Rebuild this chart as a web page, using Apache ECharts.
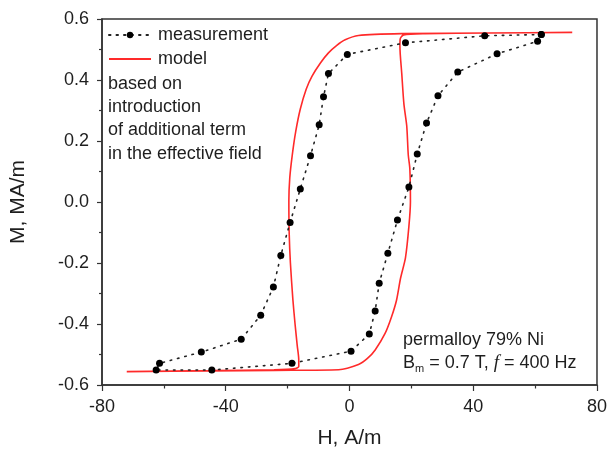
<!DOCTYPE html>
<html>
<head>
<meta charset="utf-8">
<script src="https://cdn.jsdelivr.net/npm/echarts@6/dist/echarts.min.js"></script>
<style>html,body{margin:0;padding:0;background:#fff}#c{width:610px;height:454px}</style>
</head>
<body>
<div id="c"></div>
<script>
// Measurement (black dots, dotted line) — one full loop
var measH = [62.0, 43.7, 18.1, -0.7, -6.8, -8.4, -9.8, -12.6, -15.9, -19.2, -22.2, -24.6, -28.7, -35.0, -47.9, -61.4, -62.5,
             -44.5, -18.6, 0.5, 6.4, 8.3, 9.6, 12.4, 15.5, 19.2, 21.9, 24.9, 28.6, 35.0, 47.7, 60.8, 62.0];
var measM = [0.549, 0.545, 0.522, 0.484, 0.421, 0.345, 0.253, 0.152, 0.043, -0.067, -0.175, -0.279, -0.371, -0.450, -0.492, -0.529, -0.551,
             -0.551, -0.529, -0.489, -0.433, -0.357, -0.266, -0.168, -0.059, 0.049, 0.157, 0.259, 0.348, 0.426, 0.486, 0.527, 0.549];

// Model (red line) — descending then ascending branch
var modelH = [72, 45, 16.8, 2.9, -1.4, -4.2, -6.8, -9.4, -12.1, -14.0, -15.9, -17.4, -18.5, -19.3, -19.6, -19.5, -19.1, -18.3, -17.6, -16.9, -16.4, -16.4, -17.5, -24.4, -45, -72,
              -45, -24.4, -3.5, 2.9, 5.8, 8.3, 11.5, 13.6, 15.2, 16.5, 18.1, 19.2, 19.7, 19.5, 19.0, 18.5, 17.6, 16.9, 16.3, 16.4, 17.5, 24.4, 45, 72];
var modelM = [0.556, 0.554, 0.552, 0.546, 0.532, 0.513, 0.489, 0.456, 0.413, 0.370, 0.305, 0.230, 0.154, 0.080, 0.003, -0.100, -0.200, -0.320, -0.400, -0.470, -0.517, -0.539, -0.546, -0.550, -0.553, -0.556,
              -0.554, -0.552, -0.550, -0.533, -0.513, -0.485, -0.431, -0.376, -0.322, -0.250, -0.182, -0.080, 0.002, 0.110, 0.154, 0.250, 0.320, 0.420, 0.511, 0.535, 0.548, 0.552, 0.554, 0.556];

var xTicks = {min: -80, max: 80, interval: 40};
var yTicks = {min: -0.6, max: 0.6, interval: 0.2};

function pairs(a, b) { return a.map(function (v, i) { return [v, b[i]]; }); }

var chart = echarts.init(document.getElementById('c'), null, {renderer: 'canvas'});
var FONT = 'Liberation Sans, Arial, sans-serif';
var INK = '#1e1e1e';
chart.setOption({
  animation: false,
  backgroundColor: '#fff',
  textStyle: {fontFamily: FONT},
  grid: {left: 102, right: 10, top: 19, bottom: 65, show: true, borderColor: '#333', borderWidth: 1.5, backgroundColor: 'transparent'},
  legend: {
    orient: 'vertical', left: 103, top: 21, itemWidth: 42, itemHeight: 8, itemGap: 6,
    textStyle: {fontSize: 18, color: INK, fontFamily: FONT, padding: [0, 0, 0, 2]},
    data: [
      {name: 'measurement'},
      {name: 'model', itemStyle: {opacity: 0}}
    ]
  },
  title: {
    text: 'based on\nintroduction\nof additional term\nin the effective field',
    left: 108, top: 72, padding: 0,
    textStyle: {fontSize: 18, fontWeight: 'normal', color: INK, lineHeight: 23.4, fontFamily: FONT}
  },
  xAxis: {
    type: 'value', min: xTicks.min, max: xTicks.max, interval: xTicks.interval,
    name: 'H, A/m', nameLocation: 'middle', nameGap: 43,
    nameTextStyle: {fontSize: 21, color: INK},
    axisLine: {show: true, onZero: false, lineStyle: {color: '#333', width: 1.5}},
    axisTick: {show: true, inside: false, length: 6, lineStyle: {color: '#333', width: 1.2}},
    minorTick: {show: true, splitNumber: 2, length: 3.5, lineStyle: {color: '#333', width: 1.2}},
    axisLabel: {fontSize: 18, color: INK, margin: 13},
    splitLine: {show: false}
  },
  yAxis: {
    type: 'value', min: yTicks.min, max: yTicks.max, interval: yTicks.interval,
    name: 'M, MA/m', nameLocation: 'middle', nameGap: 73,
    nameTextStyle: {fontSize: 21, color: INK},
    axisLine: {show: true, onZero: false, lineStyle: {color: '#333', width: 1.5}},
    axisTick: {show: true, inside: false, length: 5, lineStyle: {color: '#333', width: 1.2}},
    minorTick: {show: true, splitNumber: 2, length: 3, lineStyle: {color: '#333', width: 1.2}},
    axisLabel: {fontSize: 18, color: INK, margin: 13, formatter: function (v) { return v.toFixed(1); }},
    splitLine: {show: false}
  },
  graphic: [{
    type: 'text', left: 403, top: 331,
    style: {
      text: '{a|permalloy 79% Ni}\n{a|B}{s|m}{a| = 0.7 T, }{f|f}{a| = 400 Hz}',
      rich: {
        a: {fontSize: 18, fontFamily: FONT, fill: INK, lineHeight: 23},
        s: {fontSize: 11, fontFamily: FONT, fill: INK, lineHeight: 23, verticalAlign: 'bottom', padding: [10, 0, 0, 0]},
        f: {fontSize: 19, fontFamily: 'Liberation Serif, Times New Roman, serif', fontStyle: 'italic', fill: INK, lineHeight: 23}
      }
    }
  }],
  series: [
    {
      name: 'measurement', type: 'line', data: pairs(measH, measM),
      symbol: 'circle', symbolSize: 7,
      itemStyle: {color: '#000'},
      lineStyle: {color: '#222', width: 1.6, type: [1.5, 6], cap: 'round'},
      z: 3
    },
    {
      name: 'model', type: 'line', data: pairs(modelH, modelM),
      symbol: 'none', smooth: 0.25,
      itemStyle: {color: '#ff2a2a'},
      lineStyle: {color: '#ff2a2a', width: 1.6},
      z: 2
    }
  ]
});
</script>
</body>
</html>
